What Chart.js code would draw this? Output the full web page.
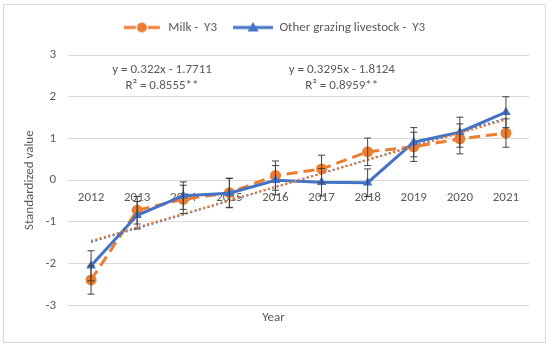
<!DOCTYPE html>
<html lang="en">
<head>
    <meta charset="UTF-8">
    <title>Standardized value by year</title>
    <style>
        body { margin: 0; background: #fff; }
        #wrap {
            position: absolute;
            left: 3px; top: 4px;
            width: 541px; height: 337px;
            border: 1px solid #d9d9d9;
        }
    </style>
</head>
<body>
    <div id="wrap"><canvas id="myChart"></canvas></div>

    <script src="https://cdn.jsdelivr.net/npm/chart.js@4/dist/chart.umd.min.js"></script>
    <script>
        var years = ['2012', '2013', '2014', '2015', '2016', '2017', '2018', '2019', '2020', '2021'];

        var milk = [-2.39, -0.72, -0.46, -0.30, 0.11, 0.27, 0.68, 0.80, 0.99, 1.13];
        var milkErr = [0.34, 0.33, 0.34, 0.35, 0.35, 0.33, 0.33, 0.35, 0.36, 0.34];

        var grazing = [-2.05, -0.84, -0.37, -0.31, 0.00, -0.05, -0.06, 0.91, 1.15, 1.63];
        var grazingErr = [0.36, 0.33, 0.33, 0.35, 0.35, 0.33, 0.33, 0.35, 0.36, 0.37];

        // trend line ends (first and last year)
        var milkTrend = [-1.45, 1.45];
        var grazingTrend = [-1.48, 1.48];

        var yTicks = [-3, -2, -1, 0, 1, 2, 3];

        var equations = [
            ['y = 0.322x - 1.7711', 'R\u00B2 = 0.8555**'],
            ['y = 0.3295x - 1.8124', 'R\u00B2 = 0.8959**']
        ];

        var ORANGE = '#ED7D31', BLUE = '#4472C4', TEXT = '#595959';
        var FONT = "Carlito, Lato, 'Liberation Sans', sans-serif";

        function trendData(ends) {
            var d = years.map(function() { return null; });
            d[0] = ends[0];
            d[d.length - 1] = ends[1];
            return d;
        }

        function legendIcon(color, marker) {
            var c = document.createElement('canvas');
            c.width = 40; c.height = 12;
            var ctx = c.getContext('2d');
            ctx.strokeStyle = color; ctx.fillStyle = color; ctx.lineWidth = 3;
            ctx.beginPath();
            if (marker === 'circle') {
                ctx.moveTo(2, 6); ctx.lineTo(14, 6);
                ctx.moveTo(26, 6); ctx.lineTo(38, 6);
            } else {
                ctx.moveTo(0, 6); ctx.lineTo(40, 6);
            }
            ctx.stroke();
            ctx.beginPath();
            if (marker === 'circle') {
                ctx.arc(20, 6, 5, 0, Math.PI * 2);
            } else {
                ctx.moveTo(20, 0.5); ctx.lineTo(25.5, 10); ctx.lineTo(14.5, 10); ctx.closePath();
            }
            ctx.fill();
            return c;
        }

        // extra room under the legend, like the original
        var legendGap = {
            id: 'legendGap',
            afterInit: function(chart) {
                var lg = chart.legend;
                if (!lg || lg._gapPatched) return;
                var fit = lg.fit;
                lg.fit = function() {
                    fit.call(this);
                    this.height += 11;
                };
                lg._gapPatched = true;
            }
        };

        var errorBars = {
            id: 'errorBars',
            afterDatasetsDraw: function(chart) {
                var ctx = chart.ctx, y = chart.scales.y;
                ctx.save();
                ctx.strokeStyle = '#404040';
                ctx.lineWidth = 1;
                chart.data.datasets.forEach(function(ds, i) {
                    if (!ds.errors) return;
                    chart.getDatasetMeta(i).data.forEach(function(pt, j) {
                        var top = y.getPixelForValue(ds.data[j] + ds.errors[j]);
                        var bot = y.getPixelForValue(ds.data[j] - ds.errors[j]);
                        ctx.beginPath();
                        ctx.moveTo(pt.x, top); ctx.lineTo(pt.x, bot);
                        ctx.moveTo(pt.x - 3.5, top); ctx.lineTo(pt.x + 3.5, top);
                        ctx.moveTo(pt.x - 3.5, bot); ctx.lineTo(pt.x + 3.5, bot);
                        ctx.stroke();
                    });
                });
                ctx.restore();
            }
        };

        // equation labels, placed in data units (category index, value)
        var eqPos = [[1.54, 2.64], [5.44, 2.64]];
        var eqLabels = {
            id: 'eqLabels',
            afterDraw: function(chart) {
                var ctx = chart.ctx, x = chart.scales.x, y = chart.scales.y;
                ctx.save();
                ctx.fillStyle = TEXT;
                ctx.font = '13px ' + FONT;
                ctx.textAlign = 'center';
                ctx.textBaseline = 'middle';
                equations.forEach(function(lines, k) {
                    var px = x.getPixelForValue(eqPos[k][0]);
                    var py = y.getPixelForValue(eqPos[k][1]);
                    lines.forEach(function(t, n) { ctx.fillText(t, px, py + n * 16); });
                });
                ctx.restore();
            }
        };

        var ctx = document.getElementById('myChart').getContext('2d');
        var chart = new Chart(ctx, {
            type: 'line',
            data: {
                labels: years,
                datasets: [{
                    label: 'Milk -  Y3',
                    data: milk,
                    errors: milkErr,
                    borderColor: ORANGE,
                    backgroundColor: ORANGE,
                    borderWidth: 3,
                    borderDash: [11, 6],
                    pointStyle: 'circle',
                    pointRadius: 5.5,
                    pointBorderWidth: 0,
                    order: 2,
                    legendIcon: legendIcon(ORANGE, 'circle')
                }, {
                    label: 'Other grazing livestock -  Y3',
                    data: grazing,
                    errors: grazingErr,
                    borderColor: BLUE,
                    backgroundColor: BLUE,
                    borderWidth: 3,
                    pointStyle: 'triangle',
                    pointRadius: 5.5,
                    pointBorderWidth: 0,
                    order: 1,
                    legendIcon: legendIcon(BLUE, 'triangle')
                }, {
                    label: 'trend milk',
                    data: trendData(milkTrend),
                    borderColor: ORANGE,
                    borderWidth: 2,
                    borderDash: [2, 2.5],
                    pointRadius: 0,
                    spanGaps: true,
                    order: 0
                }, {
                    label: 'trend grazing',
                    data: trendData(grazingTrend),
                    borderColor: BLUE,
                    borderWidth: 2,
                    borderDash: [2, 2.5],
                    pointRadius: 0,
                    spanGaps: true,
                    order: 0
                }]
            },
            options: {
                responsive: true,
                maintainAspectRatio: false,
                animation: false,
                layout: { padding: { left: 14, right: 16, top: 0 } },
                plugins: {
                    legend: {
                        position: 'top',
                        labels: {
                            usePointStyle: true,
                            pointStyleWidth: 40,
                            color: TEXT,
                            font: { family: FONT, size: 13 },
                            padding: 16,
                            filter: function(item, data) {
                                return !!data.datasets[item.datasetIndex].legendIcon;
                            },
                            generateLabels: function(ch) {
                                return ch.data.datasets.map(function(ds, i) {
                                    return {
                                        text: ds.label,
                                        fontColor: TEXT,
                                        pointStyle: ds.legendIcon,
                                        datasetIndex: i,
                                        lineWidth: 0,
                                        strokeStyle: 'transparent',
                                        fillStyle: 'transparent'
                                    };
                                });
                            }
                        }
                    },
                    title: {
                        display: true,
                        text: 'Year',
                        position: 'bottom',
                        color: TEXT,
                        font: { family: FONT, size: 13, weight: 'normal' },
                        padding: { top: 5, bottom: 16 }
                    },
                    tooltip: { enabled: false }
                },
                scales: {
                    x: {
                        position: { y: 0 },
                        offset: true,
                        grid: { display: false, drawTicks: false },
                        border: { display: false },
                        ticks: { color: TEXT, font: { family: FONT, size: 13 }, padding: 10, maxRotation: 0 }
                    },
                    y: {
                        min: -3,
                        max: 3,
                        afterBuildTicks: function(scale) {
                            scale.ticks = yTicks.map(function(v) { return { value: v }; });
                        },
                        afterFit: function(scale) { scale.width = 50; },
                        grid: { color: '#d9d9d9', drawTicks: false },
                        border: { display: false },
                        ticks: { color: TEXT, font: { family: FONT, size: 13 }, padding: 12 },
                        title: {
                            display: true,
                            text: 'Standardized value',
                            color: TEXT,
                            font: { family: FONT, size: 13 }
                        }
                    }
                }
            },
            plugins: [legendGap, errorBars, eqLabels]
        });
    </script>
</body>
</html>
